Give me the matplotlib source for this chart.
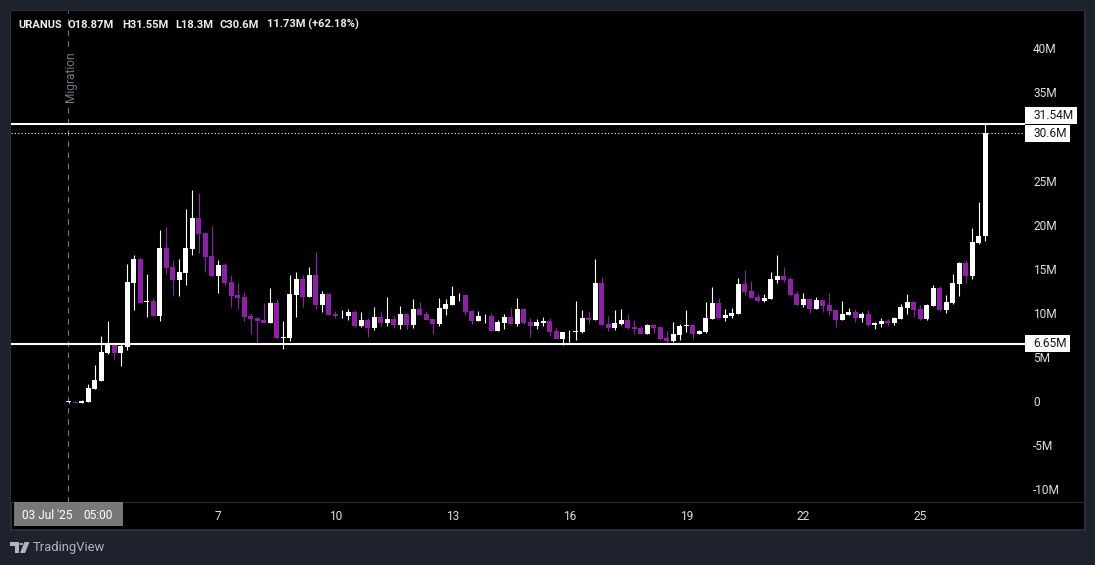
import numpy as np
import matplotlib
matplotlib.use("Agg")
import matplotlib.pyplot as plt
from matplotlib.patches import Rectangle, Polygon

# 4h candles, values in millions
opens = [0.02, 0.10, 0.0, 0.06, 1.53, 2.44, 5.61, 6.63, 5.61, 6.29, 13.55, 16.27, 11.42, 11.51, 9.81, 17.52, 15.36, 13.89, 14.68, 17.41,
         20.92, 19.22, 16.61, 14.34, 15.59, 13.66, 12.19, 11.96, 9.81, 9.58, 9.35, 9.01, 11.28, 7.31, 7.31, 12.19, 14.0, 11.96, 14.46, 11.05,
         12.30, 10.03, 9.87, 9.81, 10.26, 8.67, 9.35, 8.44, 9.69, 9.01, 9.47, 8.79, 10.03, 8.79, 10.60, 10.03, 9.47, 8.90, 10.60, 11.05,
         12.14, 12.19, 10.37, 9.24, 9.76, 9.81, 8.10, 9.01, 9.69, 8.90, 10.60, 9.13, 8.67, 9.01, 9.24, 8.10, 7.20, 7.94, 8.02, 7.99,
         9.58, 9.35, 13.55, 8.90, 8.44, 8.90, 9.35, 8.56, 8.44, 7.76, 8.79, 8.56, 7.31, 6.97, 7.65, 8.70, 8.79, 7.76, 7.99, 9.47,
         11.28, 9.58, 9.81, 10.03, 13.43, 12.64, 11.96, 11.51, 11.73, 13.89, 14.34, 14.0, 12.30, 11.05, 11.73, 10.60, 11.61, 11.05, 10.48, 9.35,
         9.91, 10.25, 9.57, 10.03, 8.78, 8.89, 9.23, 9.01, 9.46, 10.71, 11.39, 10.59, 9.46, 10.93, 12.97, 10.48, 11.27, 13.43, 15.81, 14.34,
         18.04, 18.87]
highs = [0.14, 0.12, 0.28, 2.10, 4.25, 7.54, 9.24, 6.86, 6.75, 15.70, 16.72, 16.38, 14.57, 11.85, 19.56, 19.90, 16.16, 16.27, 21.94, 24.10,
         23.76, 19.22, 20.01, 16.16, 15.82, 14.46, 13.55, 12.53, 10.15, 9.69, 11.28, 12.98, 11.73, 9.24, 14.46, 14.80, 14.46, 15.36, 17.07, 12.64,
         12.41, 10.37, 10.49, 10.60, 10.49, 10.26, 9.58, 10.83, 10.37, 11.96, 9.81, 10.94, 10.15, 11.73, 11.39, 10.37, 9.47, 11.85, 11.73, 13.21,
         12.41, 12.19, 10.49, 10.37, 10.03, 10.15, 9.35, 10.03, 10.71, 11.85, 10.60, 9.58, 9.47, 9.69, 9.58, 8.56, 7.99, 8.22, 11.51, 10.49,
         10.37, 16.27, 14.23, 9.81, 10.49, 10.60, 10.03, 9.35, 8.67, 8.90, 8.90, 8.56, 8.10, 9.13, 8.90, 10.49, 8.90, 8.22, 11.39, 13.09,
         11.85, 10.60, 10.71, 14.11, 15.02, 13.77, 12.30, 12.30, 14.80, 16.72, 15.36, 14.23, 12.64, 12.41, 11.73, 11.96, 11.61, 12.41, 10.48, 11.50,
         10.71, 10.59, 10.25, 10.48, 9.12, 9.57, 9.46, 9.69, 11.16, 12.29, 11.39, 11.05, 11.16, 13.32, 13.20, 12.18, 14.56, 15.92, 16.15, 19.78,
         22.73, 31.55]
lows = [-0.02, 0.0, 0.0, 0.06, 1.53, 2.44, 5.50, 4.82, 4.14, 5.95, 10.49, 11.28, 9.69, 9.81, 9.24, 14.57, 12.08, 12.08, 13.32, 16.72,
        16.95, 14.80, 14.23, 12.40, 13.32, 10.83, 10.60, 9.24, 7.77, 6.71, 9.01, 9.01, 7.20, 6.07, 6.97, 9.69, 10.83, 11.96, 10.60, 10.26,
        9.92, 9.58, 9.58, 9.35, 8.56, 8.56, 7.42, 8.22, 8.67, 8.67, 8.44, 8.33, 8.33, 8.44, 9.92, 9.35, 7.76, 8.67, 9.92, 11.05,
        11.51, 9.92, 8.90, 9.24, 9.01, 8.10, 8.10, 8.33, 8.90, 8.67, 8.90, 7.42, 8.33, 8.67, 7.54, 7.20, 6.52, 6.86, 7.08, 7.88,
        8.90, 9.35, 8.79, 8.10, 8.22, 8.79, 8.33, 7.76, 7.76, 7.76, 7.88, 7.08, 6.63, 6.86, 7.08, 7.99, 7.20, 7.76, 7.88, 9.47,
        9.47, 9.24, 9.58, 10.03, 12.19, 11.85, 11.39, 11.39, 11.73, 13.55, 13.66, 12.07, 11.05, 10.83, 10.15, 10.60, 10.25, 9.91, 8.55, 9.35,
        9.91, 9.12, 9.12, 8.67, 8.33, 8.55, 8.67, 8.78, 9.46, 10.03, 9.69, 9.35, 9.35, 10.93, 10.37, 10.14, 11.16, 12.07, 13.54, 14.0,
        17.96, 18.3]
closes = [0.12, 0.0, 0.17, 1.64, 2.55, 5.72, 6.75, 5.61, 6.41, 13.66, 16.27, 11.28, 11.52, 9.81, 17.52, 15.25, 13.89, 14.80, 17.52, 20.92,
          19.11, 16.50, 14.34, 15.59, 13.55, 12.08, 11.85, 9.69, 9.47, 9.24, 9.01, 11.28, 7.31, 7.44, 12.30, 14.0, 11.96, 14.46, 11.06, 12.30,
          9.92, 9.81, 9.97, 10.26, 8.67, 9.35, 8.44, 9.69, 9.01, 9.47, 8.79, 10.03, 8.79, 10.60, 9.92, 9.35, 8.90, 10.71, 11.17, 12.07,
          12.24, 10.26, 9.24, 9.81, 9.86, 8.10, 9.13, 9.69, 8.90, 10.60, 9.01, 8.67, 9.13, 9.24, 7.99, 7.20, 7.99, 8.04, 8.12, 9.58,
          9.35, 13.55, 8.79, 8.44, 9.01, 9.35, 8.44, 8.33, 7.76, 8.79, 8.44, 7.20, 6.97, 7.76, 8.67, 8.80, 7.76, 8.10, 9.58, 11.28,
          9.58, 9.92, 10.15, 13.43, 12.53, 11.85, 11.51, 11.85, 14.0, 14.34, 13.89, 12.19, 11.05, 11.73, 10.60, 11.62, 10.93, 10.37, 9.35, 10.03,
          10.25, 9.57, 10.03, 8.78, 9.01, 9.23, 9.01, 9.57, 10.82, 11.39, 10.48, 9.46, 11.05, 12.97, 10.48, 11.39, 13.54, 15.81, 14.34, 18.19,
          18.87, 30.6]

price_ticks = [-10, -5, 0, 5, 10, 15, 20, 25, 30, 35, 40]
price_tick_labels = ["-10M", "-5M", "0", "5M", "10M", "15M", "20M", "25M", "30M", "35M", "40M"]
date_ticks = [23, 41, 59, 77, 95, 113, 131]
date_tick_labels = ["7", "10", "13", "16", "19", "22", "25"]
high_level = 31.54
last_close = 30.6
low_level = 6.65

W, H = 1095, 565
BG = "#1e222d"
BORDER = "#2a2e39"
PURPLE = "#8f1fa8"
TEXT = "#dcdfe6"
FONT = ["Roboto", "DejaVu Sans"]
plt.rcParams["font.family"] = FONT


def fx(px):
    return px / W


def fy(py):
    return 1 - py / H


fig = plt.figure(figsize=(W / 100, H / 100), dpi=100, facecolor=BG)

# black panel behind the chart and the date strip
fig.add_artist(Rectangle((fx(10.5), fy(529.5)), 1074 / W, 519 / H, transform=fig.transFigure,
                         fc="black", ec=BORDER, lw=1.5, zorder=-1))

ax = fig.add_axes([fx(11), fy(502), 1073 / W, 491 / H], facecolor="black")
px_per_bar = 6.5
px_per_m = 8.82
x_origin = 68.8
ax.set_xlim((11 - x_origin) / px_per_bar, (1084 - x_origin) / px_per_bar)
ax.set_ylim((402.5 - 502) / px_per_m, (402.5 - 11) / px_per_m)

x = np.arange(len(opens))
o = np.array(opens)
c = np.array(closes)
colors = ["white" if b >= a else PURPLE for a, b in zip(o, c)]

ax.vlines(x, lows, highs, colors=colors, lw=0.8, zorder=3)
ax.bar(x, np.abs(c - o), bottom=np.minimum(o, c), width=0.8, color=colors, lw=0, zorder=4)

line_end = (1025 - x_origin) / px_per_bar
ax.hlines([high_level, low_level], ax.get_xlim()[0], line_end, colors="white", lw=1.5, zorder=5)
ax.hlines(last_close, ax.get_xlim()[0], line_end, colors="white", lw=0.8, linestyles=(0, (1, 2)), zorder=5)

# migration marker
ax.axvline(-0.05, color="#787b86", lw=0.8, dashes=(5, 5), zorder=2)
ax.text(0.25, 36.96, "Migration", rotation=90, ha="center", va="center", color="#787b86", fontsize=8.6,
        bbox=dict(fc="black", ec="none", pad=1.5), zorder=2.5)

for side in ["top", "left", "right"]:
    ax.spines[side].set_visible(False)
ax.spines["bottom"].set_color(BORDER)

ax.yaxis.tick_right()
ax.set_yticks(price_ticks)
ax.set_yticklabels(price_tick_labels)
ax.tick_params(axis="y", length=0, pad=-36.7, labelsize=8.6, labelcolor=TEXT)
ax.set_xticks(date_ticks)
ax.set_xticklabels(date_tick_labels)
ax.tick_params(axis="x", length=0, pad=6, labelsize=8.6, labelcolor=TEXT)
for label in ax.get_yticklabels():
    label.set_va("center")

# price labels on the axis
for value, label, w, top in [(high_level, "31.54M", 52, 107), (low_level, "6.65M", 45, 335), (last_close, "30.6M", 45, 125)]:
    fig.add_artist(Rectangle((fx(1025), fy(top + 16.5)), w / W, 16.5 / H, transform=fig.transFigure,
                             fc="white", ec="none", zorder=6))
    fig.text(fx(1033), fy(top + 8.5), label, color="#131722", fontsize=8.6, va="center", zorder=7)

# OHLC header
for px, s in [(18, "URANUS"), (68, "O18.87M"), (122, "H31.55M"), (175, "L18.3M"), (220, "C30.6M"), (267, "11.73M (+62.18%)")]:
    fig.text(fx(px), fy(24.5), s, color="#eceef2", fontsize=8, fontweight="bold", va="center")

# date cursor label
fig.add_artist(Rectangle((fx(14), fy(526)), 109 / W, 24 / H, transform=fig.transFigure, fc="#787878", ec="none", zorder=6))
fig.text(fx(22), fy(515.5), "03 Jul '25", color="white", fontsize=8.6, va="center", zorder=7)
fig.text(fx(83), fy(515.5), "05:00", color="white", fontsize=8.6, va="center", zorder=7)

# TradingView logo and wordmark
logo_color = "#b2b5be"
fig.add_artist(Polygon([(fx(a), fy(b)) for a, b in [(10, 542), (19, 542), (19, 553), (15, 553), (15, 546), (10, 546)]],
                       transform=fig.transFigure, fc=logo_color, ec="none"))
fig.add_artist(plt.Circle((fx(21.3), fy(544)), 2 / W, transform=fig.transFigure, fc=logo_color, ec="none"))
fig.add_artist(Polygon([(fx(a), fy(b)) for a, b in [(24.5, 542), (29.5, 542), (25, 553), (20, 553)]],
                       transform=fig.transFigure, fc=logo_color, ec="none"))
fig.text(fx(33), fy(547), "TradingView", color=logo_color, fontsize=9.4, va="center")

fig.savefig("out.png", dpi=100, facecolor=fig.get_facecolor())
